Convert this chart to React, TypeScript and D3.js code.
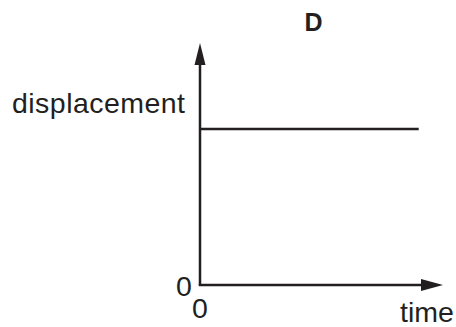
import { useEffect, useRef } from "react";
import * as d3 from "d3";

// chart values (unitless)
const times = [0, 0.9];
const displacement = [0.645, 0.645];
const title = "D";
const yLabel = "displacement";
const xLabel = "time";
const originLabels = ["0", "0"];

const WIDTH = 456;
const HEIGHT = 327;
const INK = "#231f20";

const App = () => {
  const svgRef = useRef<SVGSVGElement>(null);

  useEffect(() => {
    const svg = d3.select(svgRef.current);
    svg.selectAll("*").remove();

    // setup scaling: origin at (200, 285), arrow tips at the domain end
    const xScale = d3.scaleLinear().domain([0, 1]).range([200, 443]);
    const yScale = d3.scaleLinear().domain([0, 1]).range([285, 43]);

    const font = "'Liberation Sans', Arial, Helvetica, sans-serif";

    // axes with arrowheads
    const axes = svg.append("g").attr("stroke", INK).attr("stroke-width", 2.5);
    axes
      .append("line")
      .attr("x1", xScale(0))
      .attr("y1", yScale(0))
      .attr("x2", xScale(0))
      .attr("y2", yScale(1) + 20);
    axes
      .append("line")
      .attr("x1", xScale(0) - 1.25)
      .attr("y1", yScale(0))
      .attr("x2", xScale(1) - 20)
      .attr("y2", yScale(0));

    svg
      .append("path")
      .attr("fill", INK)
      .attr(
        "d",
        `M${xScale(0)},${yScale(1)} L${xScale(0) - 5.5},${yScale(1) + 22} L${xScale(0) + 5.5},${yScale(1) + 22} Z`
      );
    svg
      .append("path")
      .attr("fill", INK)
      .attr(
        "d",
        `M${xScale(1)},${yScale(0)} L${xScale(1) - 22},${yScale(0) - 6} L${xScale(1) - 22},${yScale(0) + 6} Z`
      );

    // data line
    const line = d3
      .line<number>()
      .x((_, i) => xScale(times[i]))
      .y((d) => yScale(d));
    svg
      .append("path")
      .datum(displacement)
      .attr("fill", "none")
      .attr("stroke", INK)
      .attr("stroke-width", 2.5)
      .attr("d", line);

    // labels
    const text = svg
      .append("g")
      .attr("font-family", font)
      .attr("font-size", 28.5)
      .attr("fill", INK);
    text
      .append("text")
      .attr("x", 12)
      .attr("y", 113)
      .attr("textLength", 173)
      .text(yLabel);
    text.append("text").attr("x", 400).attr("y", 322).text(xLabel);
    text
      .append("text")
      .attr("x", xScale(0) - 16)
      .attr("y", 296)
      .attr("text-anchor", "middle")
      .text(originLabels[0]);
    text
      .append("text")
      .attr("x", xScale(0))
      .attr("y", 318)
      .attr("text-anchor", "middle")
      .text(originLabels[1]);

    svg
      .append("text")
      .attr("x", 313.5)
      .attr("y", 31)
      .attr("text-anchor", "middle")
      .attr("font-family", font)
      .attr("font-weight", "bold")
      .attr("font-size", 25)
      .attr("fill", INK)
      .text(title);
  }, []);

  return (
    <svg
      ref={svgRef}
      width={WIDTH}
      height={HEIGHT}
      style={{ position: "absolute", left: 0, top: 0, background: "#fff" }}
    />
  );
};

export default App;
